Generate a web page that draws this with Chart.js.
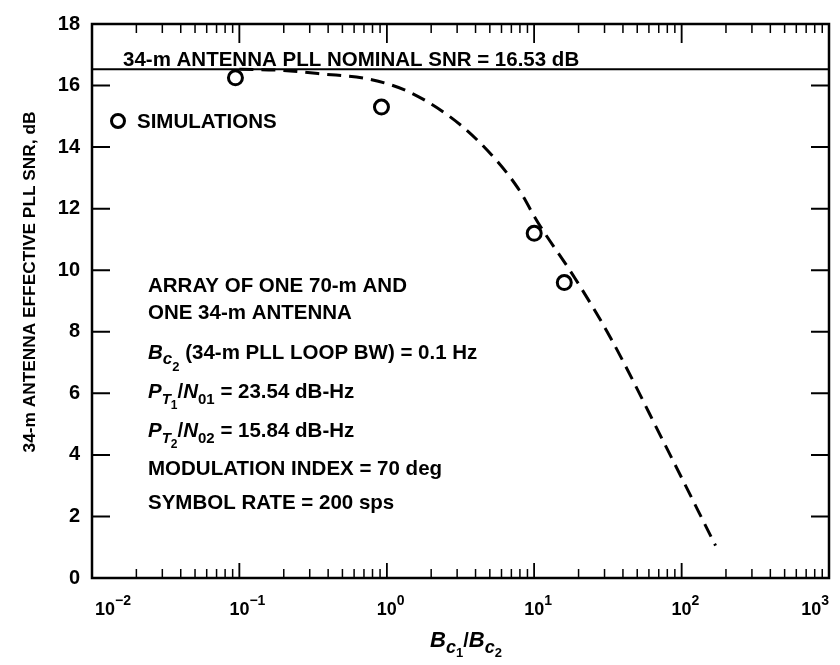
<!DOCTYPE html>
<html>
<head>
<meta charset="utf-8">
<script src="https://cdn.jsdelivr.net/npm/chart.js@4.4.0/dist/chart.umd.min.js"></script>
<style>
  body { margin: 0; background: #fff; }
  #wrap { width: 840px; height: 665px; }
</style>
</head>
<body>
<div id="wrap"><canvas id="snrChart" width="840" height="665"></canvas></div>
<script>
// analysis curve, Bc1/Bc2 vs effective SNR (dB)
var curveX = [0.1, 0.2, 0.36, 0.79, 1.48, 3.2, 5.4, 7.8, 10.6, 18.9, 33, 77, 170];
var curveY = [16.53, 16.49, 16.38, 16.19, 15.75, 14.7, 13.63, 12.65, 11.55, 9.74, 7.8, 4.34, 1.05];

// simulation results (circles)
var simX = [0.094, 0.92, 10, 16];
var simY = [16.25, 15.3, 11.2, 9.6];

// 34-m nominal SNR line
var nominalX = [0.01, 1000];
var nominalY = [16.53, 16.53];

var yTicks = [0, 2, 4, 6, 8, 10, 12, 14, 16, 18];
var xDecades = [-2, -1, 0, 1, 2, 3];

var FONT = '"Liberation Sans", Arial, Helvetica, sans-serif';

function toPoints(xs, ys) {
  return xs.map(function (x, i) { return {x: x, y: ys[i]}; });
}

// draws a list of [text, size, dy, italic] pieces one after the other
function drawRuns(ctx, runs, x, y, align) {
  var total = 0;
  runs.forEach(function (r) {
    ctx.font = (r[3] ? 'italic ' : '') + 'bold ' + r[1] + 'px ' + FONT;
    total += ctx.measureText(r[0]).width;
  });
  if (align === 'center') x -= total / 2;
  if (align === 'right') x -= total;
  runs.forEach(function (r) {
    ctx.font = (r[3] ? 'italic ' : '') + 'bold ' + r[1] + 'px ' + FONT;
    ctx.fillText(r[0], x, y + r[2]);
    x += ctx.measureText(r[0]).width;
  });
  return total;
}

var framePlugin = {
  id: 'frame',
  afterDraw: function (chart) {
    var ctx = chart.ctx;
    var a = chart.chartArea;
    var xs = chart.scales.x, ys = chart.scales.y;
    ctx.save();
    ctx.strokeStyle = '#000';
    ctx.fillStyle = '#000';
    ctx.lineWidth = 2.5;
    ctx.strokeRect(a.left, a.top, a.right - a.left, a.bottom - a.top);

    // y ticks, inside on both sides
    ctx.lineWidth = 2;
    yTicks.forEach(function (v) {
      if (v === 0 || v === 18) return;
      var py = ys.getPixelForValue(v);
      ctx.beginPath();
      ctx.moveTo(a.left, py); ctx.lineTo(a.left + 18, py);
      ctx.moveTo(a.right, py); ctx.lineTo(a.right - 18, py);
      ctx.stroke();
    });

    // x ticks, log decades with minor marks, top and bottom
    ctx.lineWidth = 1.5;
    for (var d = -2; d <= 2; d++) {
      for (var m = 1; m <= 10; m++) {
        var px = xs.getPixelForValue(m * Math.pow(10, d));
        var major = (m === 1 || m === 10);
        ctx.beginPath();
        ctx.moveTo(px, a.bottom); ctx.lineTo(px, a.bottom - (major ? 15 : 9));
        ctx.moveTo(px, a.top); ctx.lineTo(px, a.top + (major ? 19 : 9));
        ctx.stroke();
      }
    }

    // x tick labels 10^n
    ctx.textBaseline = 'alphabetic';
    xDecades.forEach(function (d, i) {
      var px = xs.getPixelForValue(Math.pow(10, d));
      var exp = String(d).replace('-', '\u2212');
      ctx.font = 'bold 18px ' + FONT;
      var w10 = ctx.measureText('10').width;
      ctx.font = 'bold 14px ' + FONT;
      var wExp = ctx.measureText(exp).width;
      var x0 = px - w10 / 2;
      if (i === 0) x0 = px + 3;
      if (i === xDecades.length - 1) x0 = px - w10 - wExp;
      drawRuns(ctx, [['10', 18, 0, 0], [exp, 14, -10, 0]], x0, 615, 'left');
    });

    // nominal SNR label
    drawRuns(ctx, [['34-m ANTENNA PLL NOMINAL SNR = 16.53 dB', 20.5, 0, 0]], 123, ys.getPixelForValue(16.53) - 3, 'left');

    // legend
    ctx.lineWidth = 3;
    ctx.beginPath();
    ctx.arc(118, 121, 6.5, 0, Math.PI * 2);
    ctx.stroke();
    drawRuns(ctx, [['SIMULATIONS', 20.5, 0, 0]], 137, 128, 'left');

    // parameter notes
    var nx = 148;
    drawRuns(ctx, [['ARRAY OF ONE 70-m AND', 20.5, 0, 0]], nx, 292, 'left');
    drawRuns(ctx, [['ONE 34-m ANTENNA', 20.5, 0, 0]], nx, 319, 'left');
    drawRuns(ctx, [['B', 20.5, 0, 1], ['c', 17, 5, 1], ['2', 13, 12, 0], [' (34-m PLL LOOP BW) = 0.1 Hz', 20.5, 0, 0]], nx, 359, 'left');
    drawRuns(ctx, [['P', 20.5, 0, 1], ['T', 15, 6, 1], ['1', 12, 11, 0], ['/', 20.5, 0, 0], ['N', 20.5, 0, 1], ['01', 15, 6, 0], [' = 23.54 dB-Hz', 20.5, 0, 0]], nx, 398, 'left');
    drawRuns(ctx, [['P', 20.5, 0, 1], ['T', 15, 6, 1], ['2', 12, 11, 0], ['/', 20.5, 0, 0], ['N', 20.5, 0, 1], ['02', 15, 6, 0], [' = 15.84 dB-Hz', 20.5, 0, 0]], nx, 437, 'left');
    drawRuns(ctx, [['MODULATION INDEX = 70 deg', 20.5, 0, 0]], nx, 475, 'left');
    drawRuns(ctx, [['SYMBOL RATE = 200 sps', 20.5, 0, 0]], nx, 509, 'left');

    // x axis title
    drawRuns(ctx, [['B', 22, 0, 1], ['c', 18, 6, 1], ['1', 13, 10, 0], ['/', 20, 0, 0], ['B', 22, 0, 1], ['c', 18, 6, 1], ['2', 13, 10, 0]], 466, 647, 'center');

    // y axis title
    ctx.translate(35, 282);
    ctx.rotate(-Math.PI / 2);
    drawRuns(ctx, [['34-m ANTENNA EFFECTIVE PLL SNR, dB', 17.3, 0, 0]], 0, 0, 'center');
    ctx.restore();
  }
};

new Chart(document.getElementById('snrChart'), {
  type: 'scatter',
  data: {
    datasets: [{
      label: 'analysis',
      data: toPoints(curveX, curveY),
      showLine: true,
      borderColor: '#000',
      borderWidth: 3,
      borderDash: [14, 8],
      pointRadius: 0,
      cubicInterpolationMode: 'monotone',
      fill: false
    }, {
      label: 'nominal',
      data: toPoints(nominalX, nominalY),
      showLine: true,
      borderColor: '#000',
      borderWidth: 2,
      pointRadius: 0,
      fill: false
    }, {
      label: 'SIMULATIONS',
      data: toPoints(simX, simY),
      showLine: false,
      pointRadius: 7,
      pointBorderWidth: 3,
      pointBorderColor: '#000',
      pointBackgroundColor: 'rgba(0,0,0,0)'
    }]
  },
  options: {
    responsive: false,
    devicePixelRatio: 1,
    animation: false,
    layout: { padding: { top: 18, right: 11, left: 0, bottom: 0 } },
    plugins: {
      legend: { display: false },
      tooltip: { enabled: false }
    },
    scales: {
      x: {
        type: 'logarithmic',
        min: 0.01,
        max: 1000,
        grid: { display: false, drawTicks: false },
        border: { display: false },
        ticks: { display: false },
        afterFit: function (s) { s.height = 87; }
      },
      y: {
        type: 'linear',
        min: 0,
        max: 18,
        grid: { display: false, drawTicks: false },
        border: { display: false },
        ticks: {
          stepSize: 2,
          padding: 12,
          color: '#000',
          font: { family: FONT, size: 20, weight: 'bold' }
        },
        afterFit: function (s) { s.width = 92; }
      }
    }
  },
  plugins: [framePlugin]
});
</script>
</body>
</html>
